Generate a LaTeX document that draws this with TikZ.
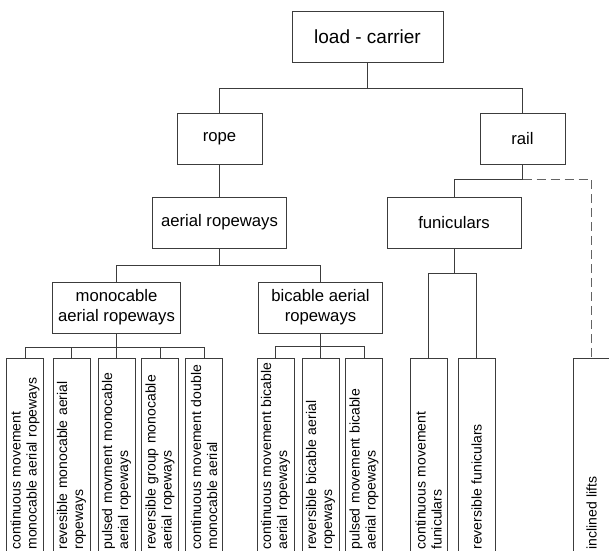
\documentclass[tikz,border=0pt]{standalone}
\usepackage{fontspec}
\setmainfont{Liberation Sans}
\usetikzlibrary{scopes}
\definecolor{ropeLine}{RGB}{60,60,60}

\begin{document}
\begin{tikzpicture}[x=1pt, y=-1pt,
    box/.style={draw=ropeLine, line width=0.9pt, fill=white, align=center,
      minimum height=51pt, inner sep=2pt, font=\fontsize{16.7}{20}\selectfont},
    leaf/.style={draw=ropeLine, line width=0.9pt, rotate=90, anchor=east,
      minimum height=37pt, text width=188pt, inner xsep=3pt, inner ysep=0pt,
      align=left, font=\fontsize{14}{16}\selectfont},
    link/.style={draw=ropeLine, line width=0.9pt}]
  \useasboundingbox (0,0) rectangle (609,550);
  \clip (0,0) rectangle (609,550);
  \coordinate (LC-bus) at (0,88);
  \coordinate (rail-bus) at (0,179);
  \coordinate (AR-bus) at (0,265);
  \coordinate (FUN-bus) at (0,273);
  \coordinate (MAR-bus) at (0,347);
  \coordinate (BAR-bus) at (0,346);
  {[every node/.style=box]
    \node[minimum width=151pt, font=\fontsize{19}{22}\selectfont] (LC) at (367.5,37) {load - carrier};
    \node[minimum width=85pt] (rope) at (219.5,138.5) {rope};
    \node[minimum width=85pt] (rail) at (522.5,138.5) {rail};
    \node[minimum width=134pt] (AR) at (219.5,222.5) {aerial ropeways};
    \node[minimum width=134pt] (FUN) at (454,222.5) {funiculars};
    \node[minimum width=128pt] (MAR) at (116.5,307.5) {monocable\\aerial ropeways};
    \node[minimum width=124pt] (BAR) at (320.5,307.5) {bicable aerial\\ropeways};
  }
  % leaves
  \foreach \x/\n/\t in {25/1/{continuous movement\\monocable aerial ropeways},
      71.5/2/{revesible monocable aerial\\ropeways},
      116.5/3/{pulsed movment monocable\\aerial ropeways},
      160/4/{reversible group monocable\\aerial ropeways},
      204/5/{continuous movement double\\monocable aerial}}
    \node[leaf] (MAR-\n) at (\x,358) {\t};
  \foreach \x/\n/\t in {275.5/1/{continuous movement bicable\\aerial ropeways},
      320.5/2/{reversible bicable aerial\\ropeways},
      364/3/{pulsed movement bicable\\aerial ropeways}}
    \node[leaf] (BAR-\n) at (\x,358) {\t};
  \node[leaf] (FUN-1) at (428.5,358) {continuous movement\\funiculars};
  \node[leaf] (FUN-2) at (476.5,358) {reversible funiculars};
  \node[leaf] (INC) at (591.5,358) {inclined lifts};
  {[link]
    \draw (LC) -- (LC |- LC-bus);
    \draw (rope) -- (rope |- LC-bus) -| (rail);
    \draw (rope) -- (AR);
    \draw (rail) -- (rail |- rail-bus) -| (FUN);
    \draw (AR) -- (AR |- AR-bus);
    \draw (MAR) -- (MAR |- AR-bus) -| (BAR);
    \draw (MAR) -- (MAR-3);
    \draw (MAR-1) -- (MAR-1 |- MAR-bus) -- (MAR-5 |- MAR-bus) -- (MAR-5);
    \foreach \i in {2,4} \draw (MAR-\i) -- (MAR-\i |- MAR-bus);
    \draw (BAR) -- (BAR-2);
    \draw (BAR-1) -- (BAR-1 |- BAR-bus) -- (BAR-3 |- BAR-bus) -- (BAR-3);
    \draw (FUN) -- (FUN |- FUN-bus);
    \draw (FUN-1) -- (FUN-1 |- FUN-bus) -- (FUN-2 |- FUN-bus) -- (FUN-2);
  }
  \draw[link, draw=ropeLine!80, dash pattern=on 9pt off 5pt] (rail |- rail-bus) -| (INC);
\end{tikzpicture}
\end{document}
